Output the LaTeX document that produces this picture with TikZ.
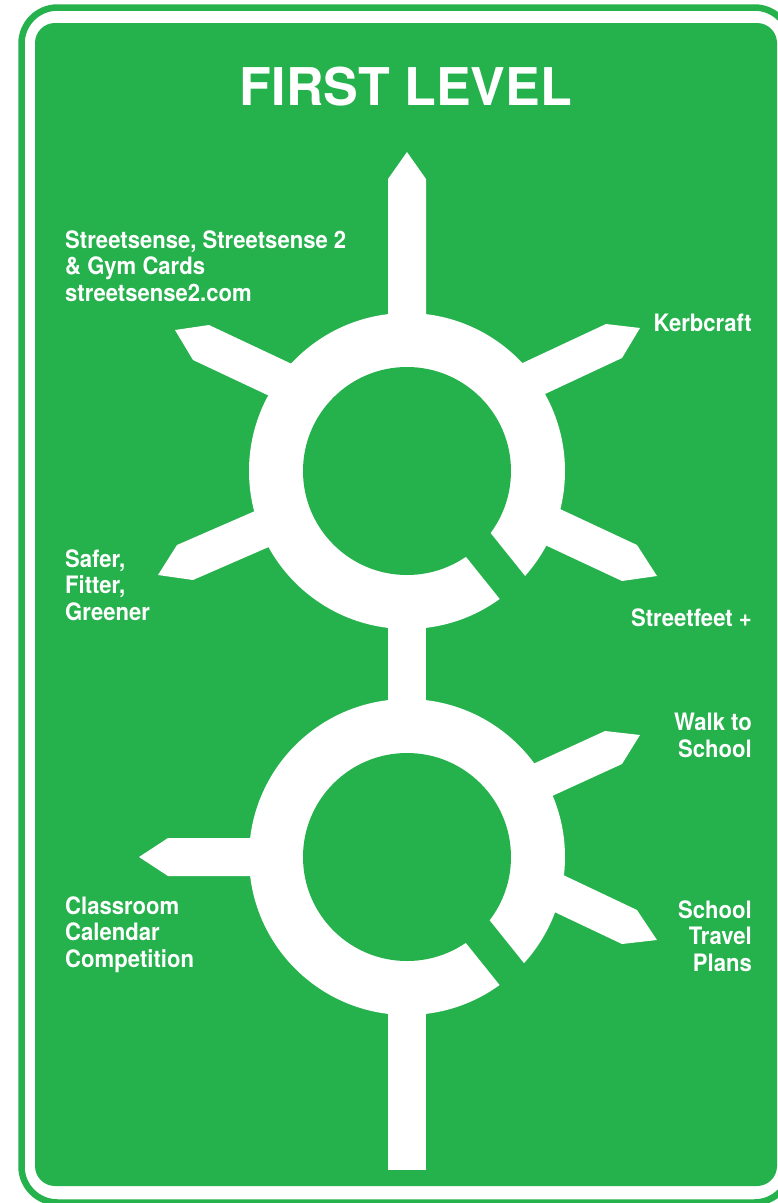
\documentclass[tikz,border=0pt]{standalone}
\usepackage{fontspec}
\newfontfamily\heros{TeX Gyre Heros}
\newfontfamily\heroscn[FakeStretch=0.92]{TeX Gyre Heros}
\definecolor{signgreen}{RGB}{37,177,76}
\begin{document}
\begin{tikzpicture}[x=1pt,y=-1pt,
  arm/.style={fill=white},
  hole/.style={fill=signgreen},
  lab/.style={font=\heroscn\bfseries\fontsize{24}{26.5}\selectfont, text=white, inner sep=0pt, align=left},
  labr/.style={lab, align=right},
  title/.style={font=\heros\bfseries\fontsize{52}{60}\selectfont, text=white, inner sep=0pt}]
\clip (0,0) rectangle (778,1203);
\fill[white] (0,0) rectangle (778,1203);
% frame
\draw[signgreen, line width=6.5pt, rounded corners=36pt] (21.5,7.5) rectangle (790.5,1202.5);
\fill[signgreen, rounded corners=20pt] (35,23) rectangle (777,1186);
% ring centres
\coordinate (c1) at (407,471);
\coordinate (c2) at (407,857);
% upper roundabout
\fill[arm] (c1) circle[radius=158];
\fill[arm] (388,420) -- (388,179) -- (407,152) -- (426,179) -- (426,420) -- cycle;
\fill[arm] (345,389) -- (209,325) -- (175,330) -- (193,360) -- (329,424) -- cycle;
\fill[arm] (452,396) -- (606,324) -- (640,328) -- (622,358) -- (468,430) -- cycle;
\fill[arm] (333,477) -- (177,545) -- (158,575) -- (193,580) -- (349,512) -- cycle;
\fill[arm] (483,473) -- (637,545) -- (657,576) -- (622,581) -- (468,509) -- cycle;
% link
\fill[arm] (388,560) rectangle (426,760);
% lower roundabout
\fill[arm] (c2) circle[radius=158];
\fill[arm] (450,802) -- (605,731) -- (640,735) -- (622,764) -- (467,835) -- cycle;
\fill[arm] (483,837) -- (637,910) -- (657,940) -- (622,944) -- (468,871) -- cycle;
\fill[arm] (330,838) -- (168,838) -- (139,857) -- (168,876) -- (330,876) -- cycle;
\fill[arm] (388,950) rectangle (426,1170);
% centres and gaps
\fill[hole] (c1) circle[radius=104];
\fill[hole] (c2) circle[radius=104];
\fill[hole] (476,515) -- (541,596) -- (516,619) -- (451,538) -- cycle;
\fill[hole] (474,901) -- (539,982) -- (515,1004) -- (450,923) -- cycle;
% texts (base anchor = baseline of last line)
\node[title, anchor=base] (t) at (406,105) {FIRST LEVEL};
\node[lab, anchor=base west] (ss) at (65,301) {Streetsense, Streetsense 2\\ \& Gym Cards\\ streetsense2.com};
\node[labr, anchor=base east] (kc) at (752,331) {Kerbcraft};
\node[lab, anchor=base west] (sfg) at (65,620) {Safer,\\ Fitter,\\ Greener};
\node[labr, anchor=base east] (sf) at (752,626) {Streetfeet +};
\node[labr, anchor=base east] (wts) at (752,757) {Walk to\\ School};
\node[lab, anchor=base west] (ccc) at (65,967) {Classroom\\ Calendar\\ Competition};
\node[labr, anchor=base east] (stp) at (752,971) {School\\ Travel\\ Plans};
\end{tikzpicture}
\end{document}
